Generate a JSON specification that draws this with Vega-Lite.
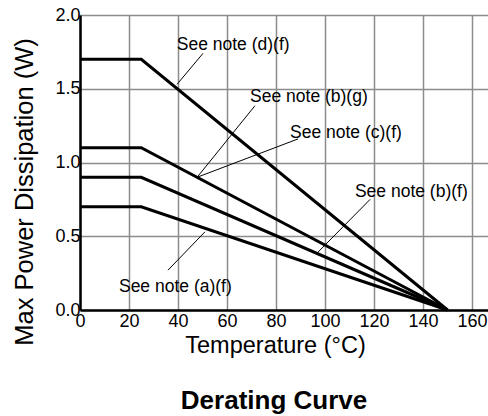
{
  "$schema": "https://vega.github.io/schema/vega-lite/v6.json",
  "width": 408,
  "height": 295,
  "autosize": {"type": "none"},
  "padding": {"left": 80, "top": 15, "right": 0, "bottom": 106},
  "config": {"view": {"stroke": null}, "font": "Liberation Sans"},
  "title": {"text": "Derating Curve", "orient": "bottom", "anchor": "middle", "fontSize": 26, "fontWeight": "bold", "color": "black", "font": "Liberation Sans", "offset": 31, "dx": -10},
  "datasets": {
    "curves": [
      {"series": "d", "x": 0, "y": 1.7}, {"series": "d", "x": 25, "y": 1.7}, {"series": "d", "x": 150, "y": 0},
      {"series": "bg", "x": 0, "y": 1.1}, {"series": "bg", "x": 25, "y": 1.1}, {"series": "bg", "x": 150, "y": 0},
      {"series": "c", "x": 0, "y": 0.9}, {"series": "c", "x": 25, "y": 0.9}, {"series": "c", "x": 150, "y": 0},
      {"series": "a", "x": 0, "y": 0.7}, {"series": "a", "x": 25, "y": 0.7}, {"series": "a", "x": 150, "y": 0}
    ],
    "leaders": [
      {"id": "d", "x": 39.6, "y": 1.53}, {"id": "d", "x": 50.2, "y": 1.74},
      {"id": "bg", "x": 47.8, "y": 0.9}, {"id": "bg", "x": 71.4, "y": 1.385},
      {"id": "c", "x": 47.8, "y": 0.9}, {"id": "c", "x": 89, "y": 1.16},
      {"id": "bf", "x": 96.7, "y": 0.385}, {"id": "bf", "x": 118.4, "y": 0.75},
      {"id": "a", "x": 35.9, "y": 0.27}, {"id": "a", "x": 51, "y": 0.53}
    ],
    "notes": [
      {"label": "See note (d)(f)", "x": 39.5, "y": 1.8},
      {"label": "See note (b)(g)", "x": 69.4, "y": 1.444},
      {"label": "See note (c)(f)", "x": 85.7, "y": 1.2},
      {"label": "See note (b)(f)", "x": 112.2, "y": 0.8},
      {"label": "See note (a)(f)", "x": 15.9, "y": 0.156}
    ]
  },
  "layer": [
    {
      "data": {"name": "curves"},
      "mark": {"type": "line", "color": "black", "strokeWidth": 3, "strokeJoin": "miter"},
      "encoding": {
        "x": {"field": "x", "type": "quantitative", "scale": {"domain": [0, 166.5], "nice": false, "zero": false},
          "axis": {"values": [0, 20, 40, 60, 80, 100, 120, 140, 160], "grid": true, "gridColor": "#8c8c8c", "gridWidth": 1.5,
            "domainColor": "black", "domainWidth": 2.5, "ticks": false, "tickSize": 0, "labelFontSize": 18, "labelPadding": 2,
            "labelColor": "black", "labelFlush": false, "labelOverlap": false, "labelFont": "Liberation Sans",
            "title": "Temperature (°C)", "titleFontSize": 23.5, "titleFontWeight": "normal", "titleColor": "black", "titleFont": "Liberation Sans",
            "titleX": 195, "titleY": 42, "titleBaseline": "alphabetic", "titleAlign": "center"}},
        "y": {"field": "y", "type": "quantitative", "scale": {"domain": [0, 2], "nice": false},
          "axis": {"values": [0, 0.5, 1, 1.5, 2], "format": ".1f", "grid": true, "gridColor": "#8c8c8c", "gridWidth": 1.5,
            "domainColor": "black", "domainWidth": 2.5, "ticks": false, "tickSize": 0, "labelFontSize": 18, "labelPadding": 0,
            "labelColor": "black", "labelFlush": false, "labelOverlap": false, "labelFont": "Liberation Sans",
            "title": "Max Power Dissipation (W)", "titleFontSize": 25.5, "titleFontWeight": "normal", "titleColor": "black", "titleFont": "Liberation Sans",
            "titleAngle": -90, "titleX": -48, "titleY": 176.5, "titleBaseline": "alphabetic", "titleAlign": "center"}},
        "detail": {"field": "series"}
      }
    },
    {
      "mark": {"type": "rule", "color": "black", "strokeWidth": 2.5},
      "encoding": {"y": {"datum": 2}}
    },
    {
      "data": {"name": "leaders"},
      "mark": {"type": "line", "color": "black", "strokeWidth": 1},
      "encoding": {
        "x": {"field": "x", "type": "quantitative"},
        "y": {"field": "y", "type": "quantitative"},
        "detail": {"field": "id"}
      }
    },
    {
      "data": {"name": "notes"},
      "mark": {"type": "text", "align": "left", "baseline": "middle", "fontSize": 17.5, "color": "black", "font": "Liberation Sans"},
      "encoding": {
        "x": {"field": "x", "type": "quantitative"},
        "y": {"field": "y", "type": "quantitative"},
        "text": {"field": "label"}
      }
    }
  ]
}
